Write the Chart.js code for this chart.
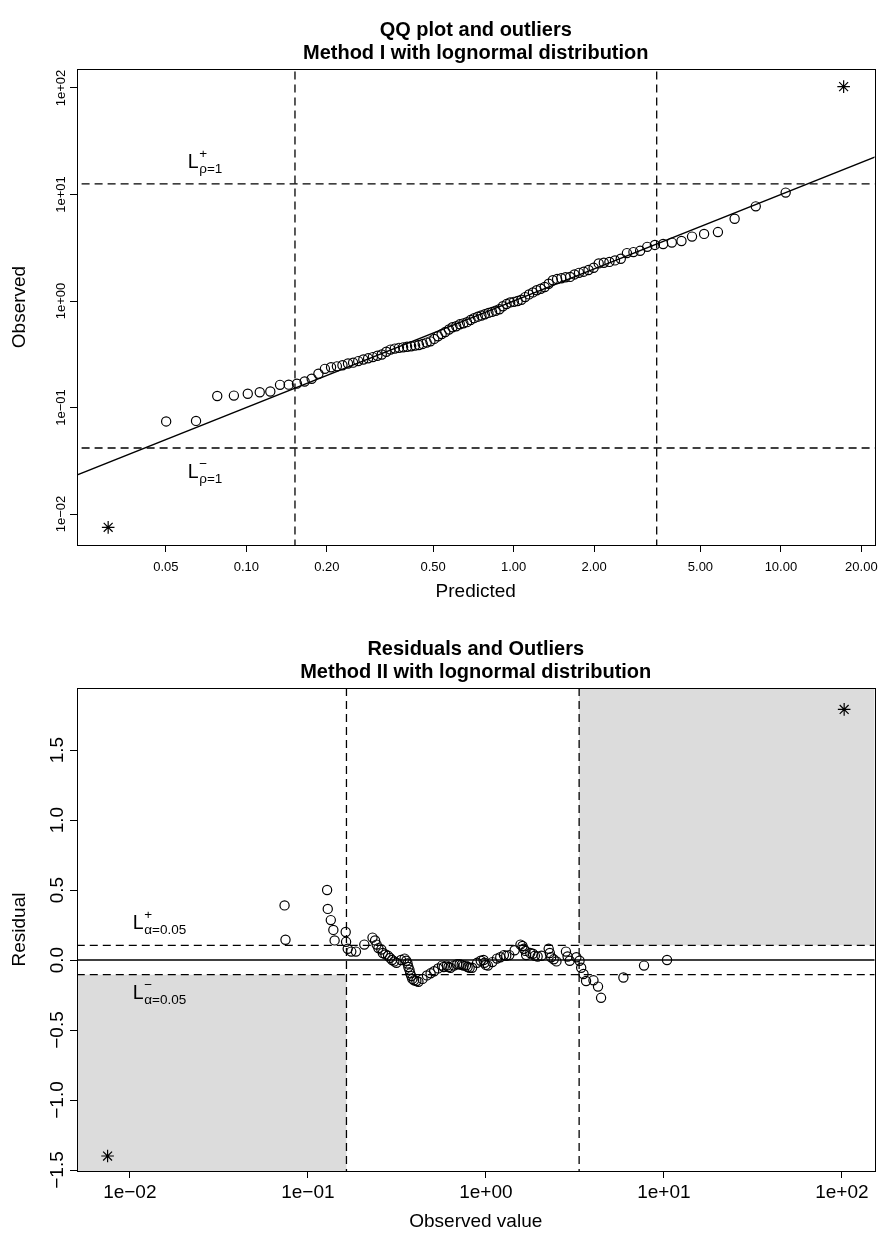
<!DOCTYPE html>
<html>
<head>
<meta charset="utf-8">
<script src="https://cdn.jsdelivr.net/npm/chart.js@4.4.1/dist/chart.umd.min.js"></script>
<style>
html,body{margin:0;padding:0;background:#fff;}
.wrap{position:relative;width:882px;height:618px;}
canvas{display:block;}
</style>
</head>
<body>
<div class="wrap"><canvas id="c1" width="882" height="618"></canvas></div>
<div class="wrap"><canvas id="c2" width="882" height="618"></canvas></div>
<script>
// ---------------- data ----------------
const predicted = [
0.0304,0.0501,0.0648,0.0778,0.0898,0.1012,0.1122,0.1229,0.1336,0.1440,
0.1546,0.1652,0.1755,0.1860,0.1967,0.2074,0.2181,0.2288,0.2400,0.2508,
0.2621,0.2739,0.2854,0.2973,0.3091,0.3211,0.3339,0.3461,0.3592,0.3723,
0.3859,0.3993,0.4135,0.4278,0.4422,0.4570,0.4728,0.4882,0.5046,0.5210,
0.5379,0.5549,0.5729,0.5904,0.6096,0.6288,0.6486,0.6690,0.6894,0.7111,
0.7342,0.7573,0.7804,0.8049,0.8303,0.8564,0.8843,0.9112,0.9408,0.9704,
1.002,1.035,1.069,1.104,1.142,1.181,1.220,1.263,1.307,1.353,
1.402,1.454,1.508,1.564,1.626,1.689,1.756,1.829,1.906,1.992,
2.081,2.175,2.282,2.394,2.517,2.654,2.807,2.974,3.161,3.377,
3.626,3.908,4.246,4.650,5.160,5.813,6.713,8.053,10.42,17.17];

const observed = [
0.0075,0.0740,0.0749,0.1283,0.1294,0.1346,0.1391,0.1414,0.1632,0.1640,
0.1675,0.1754,0.1863,0.2076,0.2308,0.2386,0.2435,0.2491,0.2587,0.2637,
0.2728,0.2823,0.2897,0.2973,0.3060,0.3147,0.3339,0.3496,0.3574,0.3631,
0.3671,0.3723,0.3760,0.3813,0.3864,0.3953,0.4069,0.4181,0.4409,0.4667,
0.4892,0.5122,0.5396,0.5673,0.5798,0.6042,0.6169,0.6332,0.6624,0.6901,
0.7125,0.7313,0.7498,0.7734,0.7898,0.8106,0.8370,0.8932,0.9361,0.9704,
0.9822,0.9994,1.027,1.088,1.154,1.205,1.263,1.302,1.354,1.451,
1.565,1.607,1.634,1.669,1.684,1.776,1.837,1.885,1.954,2.053,
2.254,2.287,2.328,2.406,2.492,2.818,2.878,2.959,3.225,3.360,
3.432,3.536,3.655,4.022,4.267,4.438,5.924,7.737,10.42,103.0];

const residual = [
-1.40,0.390,0.145,0.500,0.365,0.285,0.215,0.140,0.200,0.130,
0.080,0.060,0.060,0.110,0.160,0.140,0.110,0.085,0.075,0.050,
0.040,0.030,0.015,0.000,-0.010,-0.020,0.000,0.010,-0.005,-0.025,
-0.050,-0.070,-0.095,-0.115,-0.135,-0.145,-0.150,-0.155,-0.135,-0.110,
-0.095,-0.080,-0.060,-0.040,-0.050,-0.040,-0.050,-0.055,-0.040,-0.030,
-0.030,-0.035,-0.040,-0.040,-0.050,-0.055,-0.055,-0.020,-0.005,0.000,
-0.020,-0.035,-0.040,-0.015,0.010,0.020,0.035,0.030,0.035,0.070,
0.110,0.100,0.080,0.065,0.035,0.050,0.045,0.030,0.025,0.030,
0.080,0.050,0.020,0.005,-0.010,0.060,0.025,-0.005,0.020,-0.005,
-0.055,-0.100,-0.150,-0.145,-0.190,-0.270,-0.125,-0.040,0.000,1.790];

const outlierIndex = [0, 99];

// limits
const qqLimitUpper = 12.6, qqLimitLower = 0.0417;     // L+ and L- (rho = 1)
const qqPredLow = 0.152, qqPredHigh = 3.43;            // vertical dashed lines, top
const resLimit = 0.105;                                 // L+/- (alpha = 0.05)
const obsLow = 0.1648, obsHigh = 3.342;                 // vertical dashed lines, bottom

// axes
const topXTicks = [0.05,0.1,0.2,0.5,1,2,5,10,20];
const topXLabels = ['0.05','0.10','0.20','0.50','1.00','2.00','5.00','10.00','20.00'];
const topYTicks = [0.01,0.1,1,10,100];
const topYLabels = ['1e\u221202','1e\u221201','1e+00','1e+01','1e+02'];
const botXTicks = [0.01,0.1,1,10,100];
const botXLabels = ['1e\u221202','1e\u221201','1e+00','1e+01','1e+02'];
const botYTicks = [-1.5,-1,-0.5,0,0.5,1,1.5];
const botYLabels = ['\u22121.5','\u22121.0','\u22120.5','0.0','0.5','1.0','1.5'];

const topTitle = ['QQ plot and outliers','Method I with lognormal distribution'];
const botTitle = ['Residuals and Outliers','Method II with lognormal distribution'];

// ---------------- rendering ----------------
const FONT = '"Liberation Sans", Arial, Helvetica, sans-serif';
const BLACK = '#000';

function pts(xs, ys, keepOutliers) {
  const out = [];
  xs.forEach((v, i) => {
    const isOut = outlierIndex.includes(i);
    if (isOut === keepOutliers) out.push({x: v, y: ys[i]});
  });
  return out;
}

function lineDs(data, dash, width) {
  return {data, showLine:true, borderColor:BLACK, borderWidth:width||1.3,
          borderDash:dash||[], pointRadius:0, fill:false, tension:0};
}

function rotatedYLabels(labels, size, xCenter) {
  return {
    id: 'rotY',
    afterDraw(chart) {
      const ctx = chart.ctx, ys = chart.scales.y;
      ctx.save();
      ctx.font = size + 'px ' + FONT;
      ctx.fillStyle = BLACK;
      ctx.textAlign = 'center';
      ctx.textBaseline = 'middle';
      ys.ticks.forEach((t, i) => {
        const py = ys.getPixelForValue(t.value);
        ctx.save();
        ctx.translate(xCenter, py);
        ctx.rotate(-Math.PI / 2);
        ctx.fillText(labels[i], 0, 0);
        ctx.restore();
      });
      ctx.restore();
    }
  };
}

const boxPlugin = {
  id: 'box',
  afterDraw(chart) {
    const {left, top, right, bottom} = chart.chartArea;
    const ctx = chart.ctx;
    ctx.save();
    ctx.strokeStyle = BLACK;
    ctx.lineWidth = 1;
    ctx.strokeRect(Math.round(left) + 0.5, Math.round(top) + 0.5,
                   Math.round(right) - Math.round(left), Math.round(bottom) - Math.round(top));
    ctx.restore();
  }
};

function drawL(ctx, x, base, sup, sub) {
  ctx.save();
  ctx.fillStyle = BLACK;
  ctx.textAlign = 'left';
  ctx.textBaseline = 'alphabetic';
  ctx.font = '19.5px ' + FONT;
  ctx.fillText('L', x, base);
  const w = ctx.measureText('L').width;
  ctx.font = '13.5px ' + FONT;
  ctx.fillText(sup, x + w + 0.5, base - 10);
  ctx.fillText(sub, x + w + 0.5, base + 5);
  ctx.restore();
}

function axisCommon(extra) {
  return Object.assign({
    grid: {display:true, drawOnChartArea:false, drawTicks:true, tickLength:7, color:BLACK, lineWidth:1},
    border: {display:false}
  }, extra);
}

function fixX(h) {
  return s => { s.height = h; s.paddingLeft = 0; s.paddingRight = 0; };
}
function fixY(w) {
  return s => { s.width = w; s.paddingTop = 0; s.paddingBottom = 0; };
}

// ---------- top chart ----------
const topLabels = {
  id: 'topLabels',
  afterDatasetsDraw(chart) {
    const xs = chart.scales.x, ys = chart.scales.y, ctx = chart.ctx;
    const lx = xs.getPixelForValue(0.0604);
    drawL(ctx, lx, ys.getPixelForValue(qqLimitUpper) - 15.5, '+', '\u03c1=1');
    drawL(ctx, lx, ys.getPixelForValue(qqLimitLower) + 29.7, '\u2212', '\u03c1=1');
  }
};

new Chart(document.getElementById('c1'), {
  type: 'scatter',
  data: {
    datasets: [
      lineDs([{x:1e-4,y:qqLimitUpper},{x:1e4,y:qqLimitUpper}], [8,5]),
      lineDs([{x:1e-4,y:qqLimitLower},{x:1e4,y:qqLimitLower}], [8,5]),
      lineDs([{x:qqPredLow,y:1e-5},{x:qqPredLow,y:1e5}], [8,5]),
      lineDs([{x:qqPredHigh,y:1e-5},{x:qqPredHigh,y:1e5}], [8,5]),
      lineDs([{x:0.01,y:0.01},{x:100,y:100}], [], 1.4),
      {data: pts(predicted, observed, false), pointStyle:'circle', pointRadius:4.6,
       borderColor:BLACK, borderWidth:1.2, backgroundColor:'rgba(0,0,0,0)', showLine:false},
      {data: pts(predicted, observed, true), pointStyle:'star', pointRadius:6.3,
       borderColor:BLACK, borderWidth:1.2, backgroundColor:'rgba(0,0,0,0)', showLine:false}
    ]
  },
  options: {
    responsive:false, animation:false, devicePixelRatio:1,
    layout:{padding:{left:0,right:7,top:0,bottom:0}},
    plugins:{
      legend:{display:false}, tooltip:{enabled:false},
      title:{display:true, fullSize:false, text:topTitle, color:BLACK,
             font:{family:FONT, size:20, weight:'bold', lineHeight:1.15},
             padding:{top:18.5, bottom:4.5}}
    },
    scales:{
      x: axisCommon({type:'logarithmic', position:'bottom', min:0.02324, max:22.4,
        afterBuildTicks: s => { s.ticks = topXTicks.map(v => ({value:v})); },
        afterFit: fixX(73),
        ticks:{autoSkip:false, minRotation:0, maxRotation:0, color:BLACK,
               font:{family:FONT, size:13}, padding:8, callback:(v, i) => topXLabels[i]},
        title:{display:true, text:'Predicted', color:BLACK, font:{family:FONT, size:19},
               padding:{top:0, bottom:14.6}}}),
      y: axisCommon({type:'logarithmic', position:'left', min:0.00512, max:150.7,
        afterBuildTicks: s => { s.ticks = topYTicks.map(v => ({value:v})); },
        afterFit: fixY(77),
        ticks:{display:false},
        title:{display:true, text:'Observed', color:BLACK, font:{family:FONT, size:19},
               padding:{top:8.6, bottom:0}}})
    }
  },
  plugins:[boxPlugin, rotatedYLabels(topYLabels, 13, 61), topLabels]
});

// ---------- bottom chart ----------
const shadePlugin = {
  id: 'shade',
  beforeDatasetsDraw(chart) {
    const xs = chart.scales.x, ys = chart.scales.y, ctx = chart.ctx;
    const {left, top, right, bottom} = chart.chartArea;
    ctx.save();
    ctx.fillStyle = 'rgb(220,220,220)';
    const xh = xs.getPixelForValue(obsHigh), yh = ys.getPixelForValue(resLimit);
    ctx.fillRect(xh, top, right - xh, yh - top);
    const xl = xs.getPixelForValue(obsLow), yl = ys.getPixelForValue(-resLimit);
    ctx.fillRect(left, yl, xl - left, bottom - yl);
    ctx.restore();
  }
};
const botLabels = {
  id: 'botLabels',
  afterDatasetsDraw(chart) {
    const xs = chart.scales.x, ys = chart.scales.y, ctx = chart.ctx;
    const lx = xs.getPixelForValue(0.0104);
    drawL(ctx, lx, ys.getPixelForValue(resLimit) - 16.4, '+', '\u03b1=0.05');
    drawL(ctx, lx, ys.getPixelForValue(-resLimit) + 24, '\u2212', '\u03b1=0.05');
  }
};

new Chart(document.getElementById('c2'), {
  type: 'scatter',
  data: {
    datasets: [
      lineDs([{x:1e-5,y:resLimit},{x:1e5,y:resLimit}], [8,5]),
      lineDs([{x:1e-5,y:-resLimit},{x:1e5,y:-resLimit}], [8,5]),
      lineDs([{x:obsLow,y:-10},{x:obsLow,y:10}], [8,5]),
      lineDs([{x:obsHigh,y:-10},{x:obsHigh,y:10}], [8,5]),
      lineDs([{x:1e-5,y:0},{x:1e5,y:0}], [], 1.4),
      {data: pts(observed, residual, false), pointStyle:'circle', pointRadius:4.6,
       borderColor:BLACK, borderWidth:1.2, backgroundColor:'rgba(0,0,0,0)', showLine:false},
      {data: pts(observed, residual, true), pointStyle:'star', pointRadius:6.3,
       borderColor:BLACK, borderWidth:1.2, backgroundColor:'rgba(0,0,0,0)', showLine:false}
    ]
  },
  options: {
    responsive:false, animation:false, devicePixelRatio:1,
    layout:{padding:{left:0,right:6,top:0,bottom:0}},
    plugins:{
      legend:{display:false}, tooltip:{enabled:false},
      title:{display:true, fullSize:false, text:botTitle, color:BLACK,
             font:{family:FONT, size:20, weight:'bold', lineHeight:1.15},
             padding:{top:19.5, bottom:4.5}}
    },
    scales:{
      x: axisCommon({type:'logarithmic', position:'bottom', min:0.00505, max:152.5,
        afterBuildTicks: s => { s.ticks = botXTicks.map(v => ({value:v})); },
        afterFit: fixX(65),
        ticks:{autoSkip:false, minRotation:0, maxRotation:0, color:BLACK,
               font:{family:FONT, size:19}, padding:3.6, callback:(v, i) => botXLabels[i]},
        title:{display:true, text:'Observed value', color:BLACK, font:{family:FONT, size:19},
               padding:{top:0, bottom:2.6}}}),
      y: axisCommon({type:'linear', position:'left', min:-1.507, max:1.943,
        afterBuildTicks: s => { s.ticks = botYTicks.map(v => ({value:v})); },
        afterFit: fixY(77),
        ticks:{display:false},
        title:{display:true, text:'Residual', color:BLACK, font:{family:FONT, size:19},
               padding:{top:8.6, bottom:0}}})
    }
  },
  plugins:[shadePlugin, boxPlugin, rotatedYLabels(botYLabels, 19, 58), botLabels]
});
</script>
</body>
</html>
